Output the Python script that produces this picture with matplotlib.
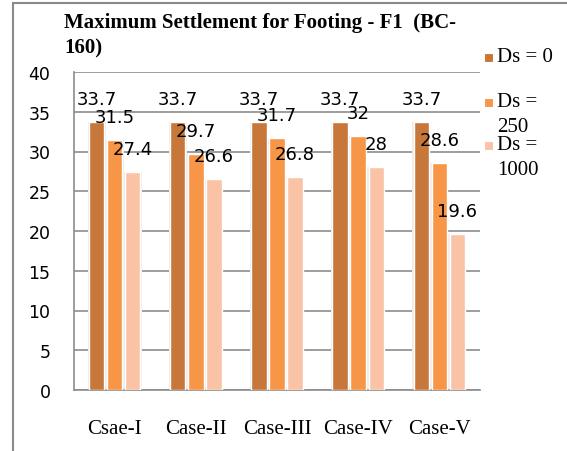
import numpy as np
import matplotlib
matplotlib.use('Agg')
import matplotlib.pyplot as plt
from matplotlib.patches import Rectangle

# chart values
cases = ['Csae-I', 'Case-II', 'Case-III', 'Case-IV', 'Case-V']
ds_0 = [33.7, 33.7, 33.7, 33.7, 33.7]
ds_250 = [31.5, 29.7, 31.7, 32, 28.6]
ds_1000 = [27.4, 26.6, 26.8, 28, 19.6]
series_labels = ['Ds = 0', 'Ds =\n250', 'Ds =\n1000']
colors = ['#C8773A', '#F79646', '#FAC3A6']

W, H = 567, 452
fig = plt.figure(figsize=(W / 100, H / 100), dpi=100)
ax = fig.add_axes([74 / W, 1 - 391 / H, (480 - 74) / W, (391 - 73) / H])

x = np.arange(len(cases))
step = 0.222
bw = 0.19

for i, (vals, col) in enumerate(zip([ds_0, ds_250, ds_1000], colors)):
    xs = x + (i - 1) * step
    # soft shadow behind the bars
    ax.bar(xs, vals, width=bw + 0.03, color='#ececec', linewidth=0, zorder=2)
    ax.bar(xs, vals, width=bw, color=col, edgecolor='white', linewidth=1, zorder=3)
    for xi, v in zip(xs, vals):
        ax.annotate('%g' % v, (xi, v), xytext=(0, 16.5), textcoords='offset points',
                    ha='center', va='center', fontsize=13,
                    family='DejaVu Sans', zorder=5)

ax.set_xlim(-0.5, len(cases) - 0.5)
ax.set_ylim(0, 40)
ax.set_yticks(range(0, 41, 5))
ax.yaxis.grid(True, color='#8c8c8c', linewidth=1.2, zorder=0)
ax.set_axisbelow(True)
for s in ['top', 'right']:
    ax.spines[s].set_visible(False)
for s in ['left', 'bottom']:
    ax.spines[s].set_color('#8c8c8c')
    ax.spines[s].set_linewidth(1.2)
ax.tick_params(axis='y', length=0, pad=17, labelsize=12.5)
ax.tick_params(axis='x', length=0, pad=21)
ax.set_xticks(x)
ax.set_xticklabels(cases, family='Liberation Serif', fontsize=15)

# title
fig.text(64 / W, 1 - 28 / H, 'Maximum Settlement for Footing - F1  (BC-',
         family='Liberation Serif', fontweight='bold', fontsize=15,
         ha='left', va='baseline')
fig.text(64 / W, 1 - 53 / H, '160)',
         family='Liberation Serif', fontweight='bold', fontsize=15,
         ha='left', va='baseline')

# legend (keys on the first line of each entry)
legend_y = [58, 103, 146]
for lab, col, ly in zip(series_labels, colors, legend_y):
    fig.patches.append(Rectangle((484 / W, 1 - (ly + 4.5) / H), 9 / W, 9 / H,
                                 transform=fig.transFigure, facecolor=col,
                                 edgecolor='white', linewidth=0.8))
    for k, line in enumerate(lab.split('\n')):
        fig.text(497 / W, 1 - (ly + 24.5 * k) / H, line, family='Liberation Serif',
                 fontsize=15, ha='left', va='center')

# outer chart border
fig.patches.append(Rectangle((13 / W, -0.1), 1.0, 1.1 - 4 / H, transform=fig.transFigure,
                             fill=False, edgecolor='#8a8a8a', linewidth=1.5))

fig.savefig('out.png', dpi=100)
